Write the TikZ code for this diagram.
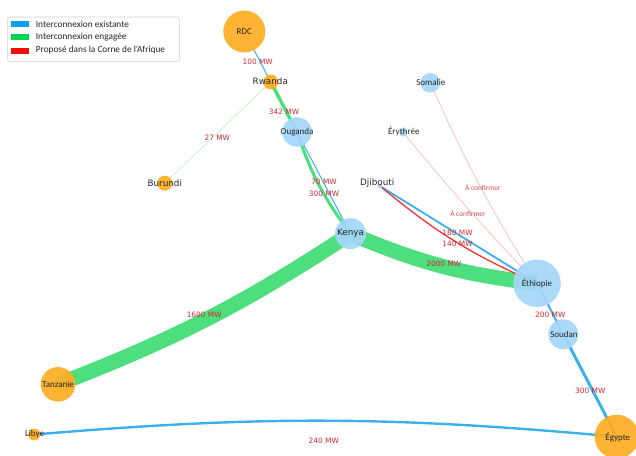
\documentclass[tikz,border=0pt]{standalone}
\usepackage{fontspec}
\setmainfont{Carlito}
\newfontfamily\dejavu{DejaVu Sans}
\pgfdeclarelayer{bg}
\pgfsetlayers{bg,main}
\definecolor{nodeor}{RGB}{254,173,35}
\definecolor{nodebl}{RGB}{164,214,250}
\definecolor{egreen}{RGB}{77,223,125}
\definecolor{eblue}{RGB}{61,176,236}
\definecolor{ered}{RGB}{240,52,52}
\definecolor{lblred}{RGB}{208,40,52}
\definecolor{legblue}{RGB}{12,160,234}
\definecolor{leggreen}{RGB}{0,214,80}
\definecolor{legred}{RGB}{250,10,10}
\tikzset{
  orn/.style={circle,fill=nodeor,inner sep=0pt,fill opacity=0.92,minimum size=#1},
  bln/.style={circle,fill=nodebl,inner sep=0pt,fill opacity=0.92,minimum size=#1},
  nlab/.style={font=\fontsize{9}{10}\selectfont,text=black!85,inner sep=0pt},
  blab/.style={font=\dejavu\fontsize{8.8}{10}\selectfont,text=black!85,inner sep=0pt},
  mw/.style={font=\dejavu\fontsize{7.4}{8}\selectfont,text=lblred,inner sep=0pt},
  conf/.style={font=\fontsize{7.4}{8}\selectfont,text=lblred!85,inner sep=0pt},
  exist/.style={draw=eblue,line width=#1},
  eng/.style={draw=egreen,line width=#1},
  prop/.style={draw=ered,line width=#1},
  swatch/.style={fill=#1,minimum width=18.6pt,minimum height=5.8pt,inner sep=0pt},
  legtxt/.style={font=\fontsize{9.3}{10}\selectfont,text=black!85,inner sep=0pt,anchor=west},
}
\begin{document}
\begin{tikzpicture}[x=1pt,y=-1pt]
\path[use as bounding box] (0,0) rectangle (636,455);
\clip (0,0) rectangle (636,455);
% nodes
\node[orn=42pt] (rdc) at (244.3,31.5) {};
\node[orn=15pt] (rw) at (270.8,82) {};
\node[bln=29.5pt] (ug) at (297,132) {};
\node[orn=15pt] (bu) at (164.8,183.2) {};
\node[bln=31pt] (ke) at (350.5,233.7) {};
\node[bln=5pt] (dj) at (380,186) {};
\node[bln=19.5pt] (so) at (430.3,82.8) {};
\node[bln=8pt] (er) at (403.3,132.7) {};
\node[bln=47.5pt] (et) at (537,283.3) {};
\node[bln=30pt] (sd) at (563.3,334.3) {};
\node[orn=44pt] (eg) at (616.7,436.7) {};
\node[orn=34.6pt] (tz) at (58,384.3) {};
\node[orn=12pt] (ly) at (34.2,434.5) {};
% edges
\begin{pgfonlayer}{bg}
\draw[exist=1pt] (rdc.center) -- (rw.center);
\draw[eng=3.5pt] (rw.center) -- (ug.center);
\draw[eng=0.8pt,draw opacity=0.35] (rw.center) -- (bu.center);
\draw[eng=3pt] (ug.center) to[bend right=9] (ke.center);
\draw[exist=1pt] (ug.center) -- (ke.center);
\draw[eng=15pt] (tz.center) to[bend right=6] (ke.center);
\draw[eng=15pt] (ke.center) to[bend right=8] (et.center);
\draw[exist=1.8pt] (dj.center) -- (et.center);
\draw[prop=1.3pt] (dj.center) to[bend right=8] (et.center);
\draw[prop=0.8pt,draw opacity=0.3] (so.center) to[bend right=4] (et.center);
\draw[prop=0.8pt,draw opacity=0.3] (er.center) to[bend right=2] (et.center);
\draw[exist=2pt] (et.center) -- (sd.center);
\draw[exist=3pt] (sd.center) -- (eg.center);
\draw[exist=2.4pt] (ly.center) to[bend left=5] (eg.center);
\end{pgfonlayer}
% node labels
\node[nlab] (rdc-l) at (rdc) {RDC};
\node[blab] (rw-l) at (270.3,81.7) {Rwanda};
\node[nlab] (ug-l) at (297,132.3) {Ouganda};
\node[blab] (bu-l) at (164.8,183.2) {Burundi};
\node[blab] (ke-l) at (350.5,233.5) {Kenya};
\node[blab] (dj-l) at (377.2,182.7) {Djibouti};
\node[nlab] (so-l) at (430.8,82.7) {Somalie};
\node[nlab] (er-l) at (403.8,131.7) {Érythrée};
\node[nlab] (et-l) at (537,283.3) {Éthiopie};
\node[nlab] (sd-l) at (564,334.3) {Soudan};
\node[nlab] (eg-l) at (617.8,437.3) {Égypte};
\node[nlab] (tz-l) at (58,384.3) {Tanzanie};
\node[nlab] (ly-l) at (34.5,434.3) {Libye};
% edge labels
\node[mw] (m1) at (257.7,61.7) {100 MW};
\node[mw] (m2) at (284,111.7) {342 MW};
\node[mw] (m3) at (217.3,137.3) {27 MW};
\node[mw] (m4) at (324,182.3) {70 MW};
\node[mw] (m5) at (324,193.7) {300 MW};
\node[conf] (c1) at (482.8,187.3) {À confirmer};
\node[conf] (c2) at (468,213.7) {À confirmer};
\node[mw] (m6) at (457.5,233) {180 MW};
\node[mw] (m7) at (457.5,244) {140 MW};
\node[mw] (m8) at (443.8,264) {2000 MW};
\node[mw] (m9) at (550.3,314.7) {200 MW};
\node[mw] (m10) at (590.3,390.3) {300 MW};
\node[mw] (m11) at (204.2,314.7) {1600 MW};
\node[mw] (m12) at (323.8,441) {240 MW};
% legend
\node[draw=black!18,line width=0.6pt,rounded corners=2pt,fill=white,minimum width=171.7pt,minimum height=44.3pt,inner sep=0pt,anchor=north west] (legend) at (7.3,16.7) {};
\node[swatch=legblue] (s1) at (20,23.8) {};
\node[swatch=leggreen] (s2) at (20,36.7) {};
\node[swatch=legred] (s3) at (20,51) {};
\node[legtxt] (t1) at (35.7,24.3) {Interconnexion existante};
\node[legtxt] (t2) at (35.7,36.7) {Interconnexion engagée};
\node[legtxt] (t3) at (35.7,50.3) {Proposé dans la Corne de l'Afrique};
\end{tikzpicture}
\end{document}
